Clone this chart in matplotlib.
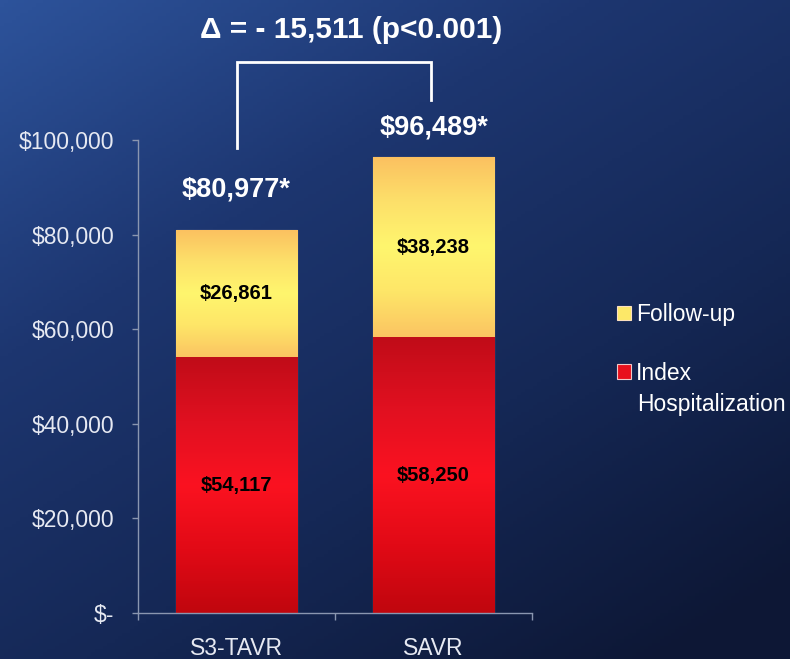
import numpy as np
import matplotlib.pyplot as plt
from matplotlib.colors import LinearSegmentedColormap

# data
categories = ['S3-TAVR', 'SAVR']
index_hosp = [54117, 58250]
follow_up = [26861, 38238]
totals = [80977, 96489]
yticks = [0, 20000, 40000, 60000, 80000, 100000]
ytick_labels = ['\\$-', '\\$20,000', '\\$40,000', '\\$60,000', '\\$80,000', '\\$100,000']
title = '\u0394 = - 15,511 (p<0.001)'

plt.rcParams['font.family'] = ['Liberation Sans', 'DejaVu Sans']

fig = plt.figure(figsize=(7.9, 6.59), dpi=100)

# background gradient
bg = fig.add_axes([0, 0, 1, 1], zorder=-10)
yy, xx = np.mgrid[0:1:200j, 0:1:200j]
t = np.clip(0.62 * yy + 0.45 * xx, 0, 1)
bg_cmap = LinearSegmentedColormap.from_list('bg', ['#2d539b', '#1d3670', '#152856', '#0d1735'])
bg.imshow(t, cmap=bg_cmap, aspect='auto', extent=[0, 1, 0, 1], origin='upper')
bg.axis('off')

ax = fig.add_axes([138 / 790, 1 - 613 / 659, (532 - 138) / 790, (613 - 140) / 659])
ax.patch.set_alpha(0)

x = np.arange(len(categories))
w = 0.615
red_cmap = LinearSegmentedColormap.from_list('red', ['#c00c18', '#e01020', '#fb1220', '#e20a16', '#c0060e'])
yel_cmap = LinearSegmentedColormap.from_list('yel', ['#fbc060', '#fde06a', '#fff66e', '#fee668', '#fbc462'])

b1 = ax.bar(x, index_hosp, w, color='#e8101c', edgecolor='#f0c8c8', linewidth=0.8,
            label='Index')
b2 = ax.bar(x, follow_up, w, bottom=index_hosp, color='#fde868', edgecolor='#fbe0c0',
            linewidth=0.8, label='Follow-up')

grad = np.linspace(0, 1, 256).reshape(-1, 1)
for bars, cmap in [(b1, red_cmap), (b2, yel_cmap)]:
    for p in bars:
        x0, y0 = p.get_x(), p.get_y()
        im = ax.imshow(grad, cmap=cmap, aspect='auto', origin='upper',
                       extent=[x0, x0 + p.get_width(), y0, y0 + p.get_height()], zorder=1.5)
        im.set_clip_path(p)

# segment labels
for i in range(len(categories)):
    ax.text(x[i], index_hosp[i] / 2, '\\$' + f'{index_hosp[i]:,}', ha='center', va='center',
            fontsize=14.5, fontweight='bold', color='black', zorder=3)
    ax.text(x[i], index_hosp[i] + follow_up[i] / 2, '\\$' + f'{follow_up[i]:,}', ha='center',
            va='center', fontsize=14.5, fontweight='bold', color='black', zorder=3)

# totals
offsets = [29, 21]
for i in range(len(categories)):
    ax.annotate('\\$' + f'{totals[i]:,}*', (x[i], totals[i]), xytext=(0, offsets[i]),
                textcoords='offset points', ha='center', va='center', fontsize=19.5,
                fontweight='bold', color='white', annotation_clip=False)

# bracket
top = max(totals) + 20000
ax.plot([x[0], x[0], x[1] - 0.015, x[1] - 0.015],
        [totals[0] + 17300, top, top, totals[1] + 12000],
        color='white', lw=2, clip_on=False, solid_joinstyle='miter')

fig.text(351 / 790, 1 - 30 / 659, title, ha='center', va='center', fontsize=21.5,
         fontweight='bold', color='white')

ax.set_xlim(-0.5, 1.5)
ax.set_ylim(0, 100000)
ax.set_yticks(yticks)
ax.set_yticklabels(ytick_labels)
ax.set_xticks([-0.5, 0.5, 1.5])
ax.set_xticklabels([])
ax.set_xticks(x, minor=True)
ax.set_xticklabels(categories, minor=True)
ax.tick_params(axis='x', which='minor', length=0, pad=17, labelsize=16.5, labelcolor='#e6e9f2')
ax.tick_params(axis='x', which='major', length=5, color='#8a96b0', width=1)
ax.tick_params(axis='y', length=4, color='#8a96b0', width=1, pad=13, labelsize=16.5,
               labelcolor='#e6e9f2')
for s in ['top', 'right']:
    ax.spines[s].set_visible(False)
for s in ['left', 'bottom']:
    ax.spines[s].set_color('#8a96b0')
    ax.spines[s].set_linewidth(1)

leg = ax.legend(handles=[b2, b1], loc='upper left', bbox_to_anchor=(617 / 790, 1 - 303 / 659),
                bbox_transform=fig.transFigure, frameon=False, fontsize=16.5,
                handlelength=0.6, handleheight=0.6, handletextpad=0.22, labelspacing=1.56,
                borderaxespad=0, borderpad=0)
for txt in leg.get_texts():
    txt.set_color('white')
# second line of the "Index Hospitalization" entry
fig.text(637 / 790, 1 - 405 / 659, 'Hospitalization', ha='left', va='center',
         fontsize=16.5, color='white')

fig.savefig('out.png', dpi=100)
